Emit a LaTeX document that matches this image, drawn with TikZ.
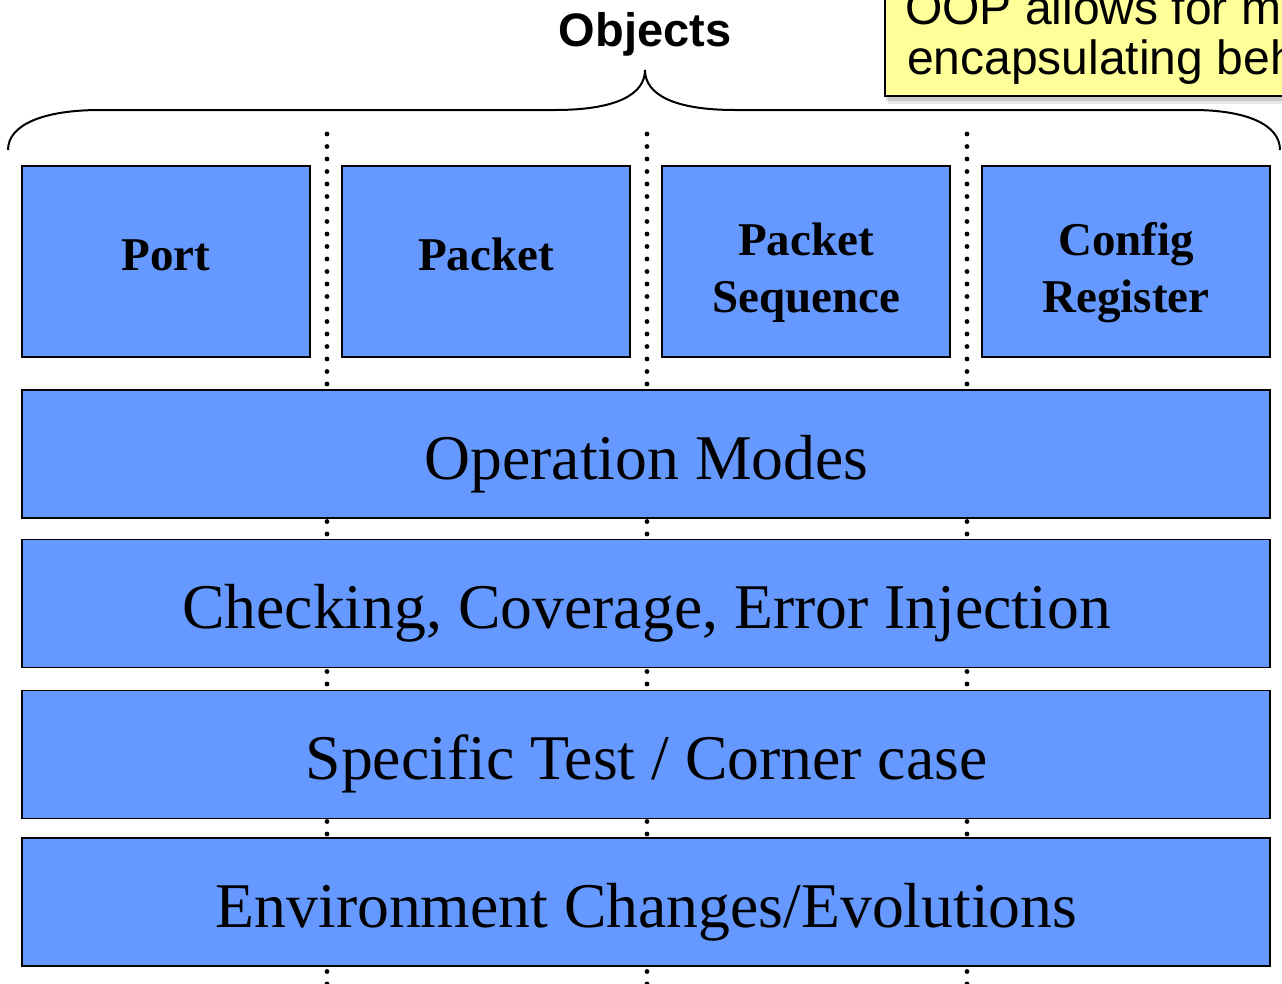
\documentclass[tikz,border=0pt]{standalone}
\usepackage{fontspec}
\setmainfont{Liberation Serif}
\newfontfamily\arialfont{Liberation Sans}
\definecolor{boxblue}{RGB}{102,153,255}
\definecolor{noteyellow}{RGB}{255,255,153}
\begin{document}
\begin{tikzpicture}[x=1pt,y=-1pt,
  blk/.style={draw=black, line width=1.8pt, fill=boxblue, inner sep=0pt, outer sep=0pt},
  topbox/.style={blk, minimum width=288pt, minimum height=191pt},
  bar/.style={blk, minimum width=1248pt, minimum height=128pt},
  toplbl/.style={font=\bfseries\fontsize{47}{56}\selectfont, anchor=base, inner sep=0pt},
  barlbl/.style={font=\fontsize{63.7}{70}\selectfont, anchor=base, inner sep=0pt},
  notelbl/.style={font=\arialfont\fontsize{48}{50}\selectfont, anchor=base west, inner sep=0pt},
  dotline/.style={line width=4.8pt, line cap=round, dash pattern=on 0pt off 12.5pt},
  bracepath/.style={line width=2pt}]
\useasboundingbox (0,0) rectangle (1282,983);
% dotted separators (behind everything)
\coordinate (d1t) at (327,134); \coordinate (d1b) at (327,990);
\coordinate (d2t) at (647,134); \coordinate (d2b) at (647,990);
\coordinate (d3t) at (967,134); \coordinate (d3b) at (967,990);
\draw[dotline] (d1t) -- (d1b);
\draw[dotline] (d2t) -- (d2b);
\draw[dotline] (d3t) -- (d3b);
% top object boxes
\node[topbox] (port) at (166,261.5) {};
\node[topbox] (packet) at (486,261.5) {};
\node[topbox] (pseq) at (806,261.5) {};
\node[topbox] (config) at (1126,261.5) {};
\node[toplbl] (portl) at (166,270) {Port};
\node[toplbl] (packetl) at (486,270) {Packet};
\node[toplbl] (pseql1) at (806,255) {Packet};
\node[toplbl] (pseql2) at (806,312) {Sequence};
\node[toplbl] (configl1) at (1126,255) {Config};
\node[toplbl] (configl2) at (1126,312) {Register};
% layer bars
\node[bar] (opmodes) at (646,454) {};
\node[bar] (checking) at (646,603.5) {};
\node[bar] (specific) at (646,754.5) {};
\node[bar] (envchg) at (646,902) {};
\node[barlbl] (opmodesl) at (646.5,479) {Operation Modes};
\node[barlbl] (checkingl) at (646.5,628.5) {Checking, Coverage, Error Injection};
\node[barlbl] (specificl) at (646.5,779) {Specific Test / Corner case};
\node[barlbl] (envchgl) at (646.5,927) {Environment Changes/Evolutions};
% brace
\draw[bracepath] (8,150) .. controls (8,124) and (45,110) .. (100,110) -- (555,110)
  .. controls (615,110) and (645,95) .. (645,70)
  .. controls (645,95) and (675,110) .. (735,110) -- (1193,110)
  .. controls (1245,110) and (1280,124) .. (1280,150);
\node[font=\arialfont\bfseries\fontsize{47}{50}\selectfont, anchor=base, inner sep=0pt] (objects) at (645,46) {Objects};
% callout note (clipped by the page)
\fill[black, opacity=0.10] (888,-10) rectangle (1300,104);
\fill[black, opacity=0.12] (886,-10) rectangle (1300,101);
\node[draw=black, line width=1.8pt, fill=noteyellow, minimum width=420pt, minimum height=110pt, anchor=south west, inner sep=0pt] (note) at (884,97) {};
\node[notelbl] (notel1) at (905,24) {OOP allows for mo};
\node[notelbl] (notel2) at (907,74) {encapsulating beh};
\end{tikzpicture}
\end{document}
